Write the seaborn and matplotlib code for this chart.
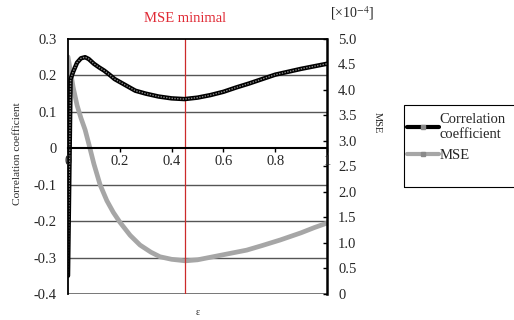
import numpy as np
import pandas as pd
import matplotlib
matplotlib.use("Agg")
import matplotlib.pyplot as plt
import seaborn as sns
from matplotlib.lines import Line2D
from matplotlib.patches import Rectangle

# ------------------------
# DATA
# ------------------------

eps_corr = [0.0, 0.01, 0.02, 0.035, 0.05, 0.066, 0.08, 0.1, 0.12, 0.14, 0.16, 0.18,
            0.2, 0.23, 0.26, 0.3, 0.35, 0.4, 0.45, 0.5, 0.55, 0.6, 0.65, 0.7,
            0.75, 0.8, 0.85, 0.9, 0.95, 1.0]
corr = [-0.35, 0.19, 0.21, 0.235, 0.247, 0.25, 0.245, 0.232, 0.222, 0.213, 0.202, 0.19,
        0.182, 0.17, 0.158, 0.15, 0.142, 0.137, 0.135, 0.139, 0.146, 0.155, 0.167, 0.178,
        0.19, 0.202, 0.21, 0.218, 0.225, 0.232]

eps_mse = [0.0, 0.01, 0.02, 0.035, 0.05, 0.066, 0.08, 0.1, 0.124, 0.15, 0.175, 0.2,
           0.24, 0.278, 0.32, 0.355, 0.4, 0.453, 0.5, 0.56, 0.62, 0.69, 0.75, 0.82,
           0.9, 0.95, 1.0]
mse = [4.65, 4.35, 4.05, 3.7, 3.45, 3.22, 2.95, 2.55, 2.14, 1.83, 1.6, 1.41,
       1.15, 0.96, 0.82, 0.73, 0.68, 0.65, 0.67, 0.73, 0.79, 0.86, 0.95, 1.06,
       1.2, 1.3, 1.39]  # x 1e-4

eps_min = 0.453

x_ticks = [0, 0.2, 0.4, 0.6, 0.8, 1.0]
x_labels = ["0", "0.2", "0.4", "0.6", "0.8", "1"]
left_ticks = [0.3, 0.2, 0.1, 0, -0.1, -0.2, -0.3, -0.4]
left_labels = ["0.3", "0.2", "0.1", "0", "-0.1", "-0.2", "-0.3", "-0.4"]
right_ticks = [0, 0.5, 1.0, 1.5, 2.0, 2.5, 3.0, 3.5, 4.0, 4.5, 5.0]
right_labels = ["0", "0.5", "1.0", "1.5", "2.0", "2.5", "3.0", "3.5", "4.0", "4.5", "5.0"]

df_corr = pd.DataFrame({"eps": eps_corr, "corr": corr})
df_mse = pd.DataFrame({"eps": eps_mse, "mse": mse})

# ------------------------
# PLOT
# ------------------------

sns.set_style("white")
plt.rcParams["font.family"] = ["Liberation Serif", "DejaVu Serif"]
plt.rcParams["mathtext.fontset"] = "stix"

fig = plt.figure(figsize=(5.14, 3.2), dpi=100)
ax = fig.add_axes([0.1323, 0.0813, 0.5039, 0.7969])
ax2 = ax.twinx()
ax2.set_zorder(0)
ax.set_zorder(1)
ax.patch.set_visible(False)

ax.set_xlim(0, 1)
ax.set_ylim(-0.4, 0.3)
ax2.set_ylim(0, 5)

for y in [0.2, 0.1, -0.1, -0.2, -0.3]:
    ax2.axhline((y + 0.4) / 0.7 * 5, color="#555555", lw=1.0, zorder=0)
ax2.axhline(0, color="#777777", lw=1.4, zorder=0)

ax.axvline(eps_min, color="#cc2a2a", lw=0.9, zorder=1)

sns.lineplot(data=df_mse, x="eps", y="mse", ax=ax2, color="#a6a6a6", lw=3.4, legend=False)
sns.lineplot(data=df_corr, x="eps", y="corr", ax=ax, color="black", lw=3.2, legend=False)
sns.lineplot(data=df_corr, x="eps", y="corr", ax=ax, color="#8a8a8a", lw=1.0,
             linestyle=(0, (1, 1)), legend=False)

# spines
ax.spines["bottom"].set_position(("data", 0))
ax.spines["bottom"].set_color("black")
ax.spines["bottom"].set_linewidth(1.5)
ax.spines["left"].set_color("black")
ax.spines["left"].set_linewidth(1.3)
ax.spines["top"].set_color("black")
ax.spines["top"].set_linewidth(1.3)
ax.spines["right"].set_color("black")
ax.spines["right"].set_linewidth(1.8)
ax.spines["right"].set_zorder(1)
for s in ["left", "top", "bottom", "right"]:
    ax2.spines[s].set_visible(False)

ax.set_xticks(x_ticks)
ax.set_xticklabels(x_labels)
ax.set_yticks(left_ticks)
ax.set_yticklabels(left_labels)
ax.tick_params(axis="x", direction="out", length=3, width=1, color="black",
               labelsize=10.5, pad=2, bottom=True)
ax.tick_params(axis="y", length=0, labelsize=10.5, pad=8)
ax.xaxis.set_zorder(3)

ax2.set_xlim(0, 1)
ax2.set_yticks(right_ticks)
ax2.set_yticklabels(right_labels)
ax2.tick_params(axis="y", direction="in", length=3, width=1, color="black",
                labelsize=10.5, pad=8, right=True)

ax.set_xlabel("ε", fontsize=7)
ax.xaxis.set_label_coords(0.5, -0.055)
ax.set_ylabel("Correlation coefficient", fontsize=8.2)
ax.yaxis.set_label_coords(-0.178, 0.55)
ax2.set_ylabel("MSE", fontsize=7.5, rotation=270, va="center")
ax2.yaxis.set_label_coords(1.193, 0.67)

ax.text(eps_min, 1.082, "MSE minimal", transform=ax.get_xaxis_transform(),
        ha="center", va="center", color="#e02a35", fontsize=10.5)
fig.text(352 / 514, 1 - 13 / 320, r"[×10$^{-4}$]", ha="center", va="center", fontsize=10)

# legend
h_corr = Line2D([], [], color="black", lw=3, marker="s", markersize=2.5,
                markerfacecolor="#8a8a8a", markeredgecolor="#8a8a8a")
h_mse = Line2D([], [], color="#a6a6a6", lw=3, marker="s", markersize=2.5,
               markerfacecolor="#8a8a8a", markeredgecolor="#8a8a8a")
fig.legend([h_corr, h_mse], ["Correlation\ncoefficient", "MSE"],
           loc="upper left", bbox_to_anchor=(407 / 514, 1 - 113 / 320),
           fontsize=10.5, frameon=False, numpoints=1,
           handlelength=2.2, handletextpad=0.05, borderpad=0,
           labelspacing=0.55, borderaxespad=0)
fig.patches.append(Rectangle((404 / 514, 1 - 187 / 320), 0.3, 82 / 320,
                             transform=fig.transFigure, fill=False,
                             edgecolor="black", lw=0.8))

fig.savefig("out.png", dpi=100)
